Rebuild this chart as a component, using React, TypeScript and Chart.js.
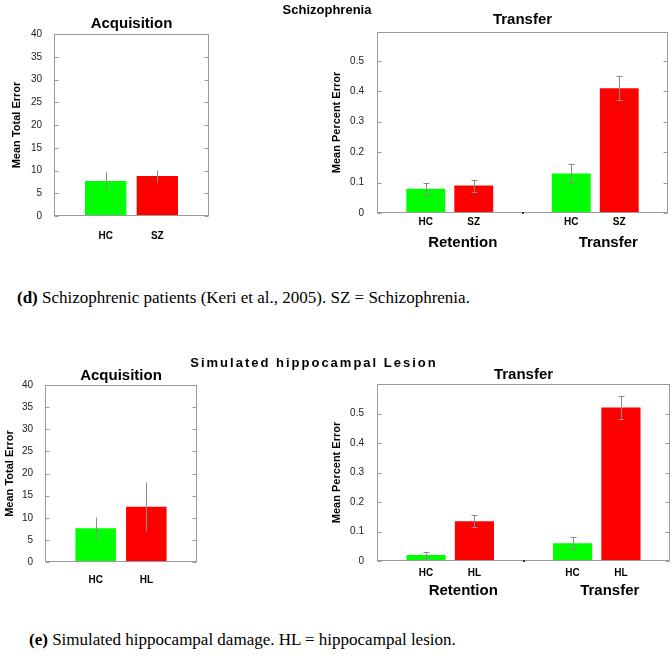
import React, { useEffect, useRef } from 'react';
import { Chart, registerables } from 'chart.js';

Chart.register(...registerables);

// ---------- data ----------
const acqGroupsSZ = ['HC', 'SZ'];
const acqMeansSZ = [7.7, 8.8];
const acqErrSZ = [2.0, 1.3];

const phases = ['Retention', 'Transfer'];
const trSZ_HC = [0.08, 0.13];
const trSZ_HCErr = [0.02, 0.03];
const trSZ_SZ = [0.09, 0.41];
const trSZ_SZErr = [0.02, 0.04];

const acqGroupsHL = ['HC', 'HL'];
const acqMeansHL = [7.6, 12.5];
const acqErrHL = [2.5, 5.5];

const trHL_HC = [0.02, 0.06];
const trHL_HCErr = [0.01, 0.02];
const trHL_HL = [0.135, 0.52];
const trHL_HLErr = [0.02, 0.04];

// ---------- styles ----------
const FONT = '"Liberation Sans", Arial, Helvetica, sans-serif';
const GREEN = '#00ff00';
const RED = '#ff0000';
const FRAME = '#9a9a9a';
const ERR = '#8a8a8a';

Chart.defaults.font.family = FONT;
Chart.defaults.color = '#000';

const errorBarsPlugin = {
  id: 'errorBars',
  afterDatasetsDraw(chart: any, _a: any, opts: any) {
    const { ctx } = chart;
    const y = chart.scales.y;
    const cap = opts && typeof opts.cap === 'number' ? opts.cap : 3;
    ctx.save();
    ctx.strokeStyle = ERR;
    ctx.lineWidth = 1;
    chart.data.datasets.forEach((ds: any, di: number) => {
      const meta = chart.getDatasetMeta(di);
      meta.data.forEach((el: any, i: number) => {
        const raw = ds.data[i];
        const v = typeof raw === 'number' ? raw : raw.y;
        const e = ds.errors[i];
        const x = Math.round(el.x) + 0.5;
        const y1 = Math.round(y.getPixelForValue(v - e)) + 0.5;
        const y2 = Math.round(y.getPixelForValue(v + e)) + 0.5;
        ctx.beginPath();
        ctx.moveTo(x, y1);
        ctx.lineTo(x, y2);
        if (cap > 0) {
          ctx.moveTo(x - cap, y1);
          ctx.lineTo(x + cap, y1);
          ctx.moveTo(x - cap, y2);
          ctx.lineTo(x + cap, y2);
        }
        ctx.stroke();
      });
    });
    ctx.restore();
  },
};

const matlabBoxPlugin = {
  id: 'matlabBox',
  afterDraw(chart: any, _a: any, opts: any) {
    const { ctx, chartArea: a } = chart;
    const y = chart.scales.y;
    const l = Math.round(a.left) + 0.5;
    const r = Math.round(a.right) - 0.5;
    const t = Math.round(a.top) + 0.5;
    const b = Math.round(a.bottom) - 0.5;
    ctx.save();
    ctx.strokeStyle = FRAME;
    ctx.lineWidth = 1;
    ctx.strokeRect(l, t, r - l, b - t);
    ctx.beginPath();
    y.ticks.forEach((tk: any) => {
      const py = Math.round(y.getPixelForValue(tk.value)) + 0.5;
      ctx.moveTo(l, py);
      ctx.lineTo(l + 4, py);
      ctx.moveTo(r, py);
      ctx.lineTo(r - 4, py);
    });
    ctx.stroke();
    if (opts && opts.midMark) {
      ctx.fillStyle = '#333';
      ctx.fillRect(Math.round((a.left + a.right) / 2) - 1, Math.round(a.bottom) - 1, 2, 2);
    }
    ctx.restore();
  },
};

const barLabelsPlugin = {
  id: 'barLabels',
  afterDraw(chart: any, _a: any, opts: any) {
    const { ctx, chartArea: a } = chart;
    ctx.save();
    ctx.font = `bold 10px ${FONT}`;
    ctx.textAlign = 'center';
    ctx.textBaseline = 'middle';
    ctx.fillStyle = '#000';
    chart.data.datasets.forEach((ds: any, di: number) => {
      chart.getDatasetMeta(di).data.forEach((el: any) => {
        ctx.fillText(ds.label, el.x, a.bottom + opts.offset);
      });
    });
    ctx.restore();
  },
};

type Geo = {
  padLeft: number;
  padRight: number;
  titleTop: number;
  titleBottom: number;
  yAxisWidth: number;
  yTitlePad: number;
  xAxisHeight: number;
  xTickPad: number;
};

function acquisitionConfig(labels: string[], means: number[], errors: number[], g: Geo) {
  return {
    type: 'bar',
    data: {
      datasets: [
        {
          label: 'Acquisition',
          data: labels.map((_, i) => ({ x: i + 1, y: means[i] })),
          errors,
          backgroundColor: [GREEN, RED],
          borderWidth: 0,
          categoryPercentage: 1,
          barPercentage: 0.8,
        },
      ],
    },
    options: {
      responsive: false,
      animation: false,
      layout: { padding: { left: g.padLeft, right: g.padRight, top: 0, bottom: 0 } },
      plugins: {
        legend: { display: false },
        tooltip: { enabled: false },
        title: {
          display: true,
          fullSize: false,
          text: 'Acquisition',
          color: '#000',
          font: { size: 15, weight: 'bold', family: FONT },
          padding: { top: g.titleTop, bottom: g.titleBottom },
        },
        errorBars: { cap: 0 },
        matlabBox: { midMark: false },
      },
      scales: {
        x: {
          type: 'linear',
          min: 0,
          max: 3,
          offset: false,
          grid: { display: false },
          border: { display: false },
          afterBuildTicks: (s: any) => {
            s.ticks = labels.map((_, i) => ({ value: i + 1 }));
          },
          afterFit: (s: any) => {
            s.height = g.xAxisHeight;
          },
          ticks: {
            autoSkip: false,
            maxRotation: 0,
            padding: g.xTickPad,
            color: '#000',
            font: { size: 10, weight: 'bold', family: FONT },
            callback: (v: any) => labels[Math.round(v) - 1] ?? '',
          },
        },
        y: {
          min: 0,
          max: 40,
          grid: { display: false },
          border: { display: false },
          afterFit: (s: any) => {
            s.width = g.yAxisWidth;
          },
          ticks: { stepSize: 5, padding: 4, color: '#222', font: { size: 10, family: FONT } },
          title: {
            display: true,
            text: 'Mean Total Error',
            color: '#000',
            font: { size: 11, weight: 'bold', family: FONT },
            padding: { top: g.yTitlePad, bottom: 0 },
          },
        },
      },
    },
    plugins: [errorBarsPlugin, matlabBoxPlugin],
  };
}

type Series = { label: string; data: number[]; err: number[]; color: string };

function transferConfig(series: Series[], yMax: number, labelOffset: number, g: Geo) {
  return {
    type: 'bar',
    data: {
      labels: phases,
      datasets: series.map((s) => ({
        label: s.label,
        data: s.data,
        errors: s.err,
        backgroundColor: s.color,
        borderWidth: 0,
        categoryPercentage: 0.66,
        barPercentage: 0.81,
      })),
    },
    options: {
      responsive: false,
      animation: false,
      layout: { padding: { left: g.padLeft, right: g.padRight, top: 0, bottom: 0 } },
      plugins: {
        legend: { display: false },
        tooltip: { enabled: false },
        title: {
          display: true,
          fullSize: false,
          text: 'Transfer',
          color: '#000',
          font: { size: 15, weight: 'bold', family: FONT },
          padding: { top: g.titleTop, bottom: g.titleBottom },
        },
        errorBars: { cap: 3 },
        matlabBox: { midMark: true },
        barLabels: { offset: labelOffset },
      },
      scales: {
        x: {
          type: 'category',
          offset: true,
          grid: { display: false },
          border: { display: false },
          afterFit: (s: any) => {
            s.height = g.xAxisHeight;
          },
          ticks: {
            autoSkip: false,
            maxRotation: 0,
            padding: g.xTickPad,
            labelOffset: 13,
            color: '#000',
            font: { size: 15, weight: 'bold', family: FONT },
          },
        },
        y: {
          min: 0,
          max: yMax,
          grid: { display: false },
          border: { display: false },
          afterFit: (s: any) => {
            s.width = g.yAxisWidth;
          },
          ticks: {
            stepSize: 0.1,
            includeBounds: false,
            padding: 5,
            color: '#222',
            font: { size: 10, family: FONT },
            callback: (v: any) => (v > 0.55 ? '' : String(Number(Number(v).toFixed(1)))),
          },
          title: {
            display: true,
            text: 'Mean Percent Error',
            color: '#000',
            font: { size: 11, weight: 'bold', family: FONT },
            padding: { top: g.yTitlePad, bottom: 0 },
          },
        },
      },
    },
    plugins: [errorBarsPlugin, matlabBoxPlugin, barLabelsPlugin],
  };
}

type PanelProps = { left: number; top: number; width: number; height: number; make: () => any };

function Panel({ left, top, width, height, make }: PanelProps) {
  const ref = useRef<HTMLCanvasElement>(null);
  useEffect(() => {
    const chart = new Chart(ref.current as HTMLCanvasElement, make());
    return () => chart.destroy();
  }, []);
  return (
    <canvas
      ref={ref}
      width={width}
      height={height}
      style={{ position: 'absolute', left, top, width, height, display: 'block' }}
    />
  );
}

export default function App() {
  const serif = '"Liberation Serif", "Times New Roman", Times, serif';
  return (
    <div style={{ position: 'absolute', left: 0, top: 0, width: 672, height: 661, background: '#fff', overflow: 'hidden' }}>
      <Panel
        left={0}
        top={0}
        width={240}
        height={250}
        make={() =>
          acquisitionConfig(acqGroupsSZ, acqMeansSZ, acqErrSZ, {
            padLeft: 0, padRight: 31, titleTop: 15, titleBottom: 1,
            yAxisWidth: 54, yTitlePad: 10.4, xAxisHeight: 34, xTickPad: 6,
          })
        }
      />
      <Panel
        left={280}
        top={0}
        width={392}
        height={250}
        make={() =>
          transferConfig(
            [
              { label: 'HC', data: trSZ_HC, err: trSZ_HCErr, color: GREEN },
              { label: 'SZ', data: trSZ_SZ, err: trSZ_SZErr, color: RED },
            ],
            0.595,
            9,
            { padLeft: 48, padRight: 4, titleTop: 11, titleBottom: 3, yAxisWidth: 49, yTitlePad: 2.4, xAxisHeight: 37, xTickPad: 13 }
          )
        }
      />
      <Panel
        left={0}
        top={355}
        width={240}
        height={250}
        make={() =>
          acquisitionConfig(acqGroupsHL, acqMeansHL, acqErrHL, {
            padLeft: 0, padRight: 43, titleTop: 12, titleBottom: 0,
            yAxisWidth: 45, yTitlePad: 3.4, xAxisHeight: 43, xTickPad: 4,
          })
        }
      />
      <Panel
        left={280}
        top={355}
        width={392}
        height={250}
        make={() =>
          transferConfig(
            [
              { label: 'HC', data: trHL_HC, err: trHL_HCErr, color: GREEN },
              { label: 'HL', data: trHL_HL, err: trHL_HLErr, color: RED },
            ],
            0.6,
            12,
            { padLeft: 48, padRight: 2, titleTop: 11, titleBottom: 0, yAxisWidth: 49, yTitlePad: 2.4, xAxisHeight: 44, xTickPad: 13 }
          )
        }
      />
      <div style={{ position: 'absolute', left: 0, top: 2, width: 654, textAlign: 'center', font: `bold 13px ${FONT}`, lineHeight: '16px', color: '#000' }}>
        Schizophrenia
      </div>
      <div style={{ position: 'absolute', left: 0, top: 355, width: 628, textAlign: 'center', font: `bold 13px ${FONT}`, lineHeight: '16px', letterSpacing: '2px', color: '#000' }}>
        Simulated hippocampal Lesion
      </div>
      <div style={{ position: 'absolute', left: 17, top: 287, font: `17px ${serif}`, lineHeight: '22px', whiteSpace: 'nowrap', color: '#000' }}>
        <b>(d)</b> Schizophrenic patients (Keri et al., 2005). SZ = Schizophrenia.
      </div>
      <div style={{ position: 'absolute', left: 29, top: 629, font: `17px ${serif}`, lineHeight: '22px', whiteSpace: 'nowrap', color: '#000' }}>
        <b>(e)</b> Simulated hippocampal damage. HL = hippocampal lesion.
      </div>
    </div>
  );
}
